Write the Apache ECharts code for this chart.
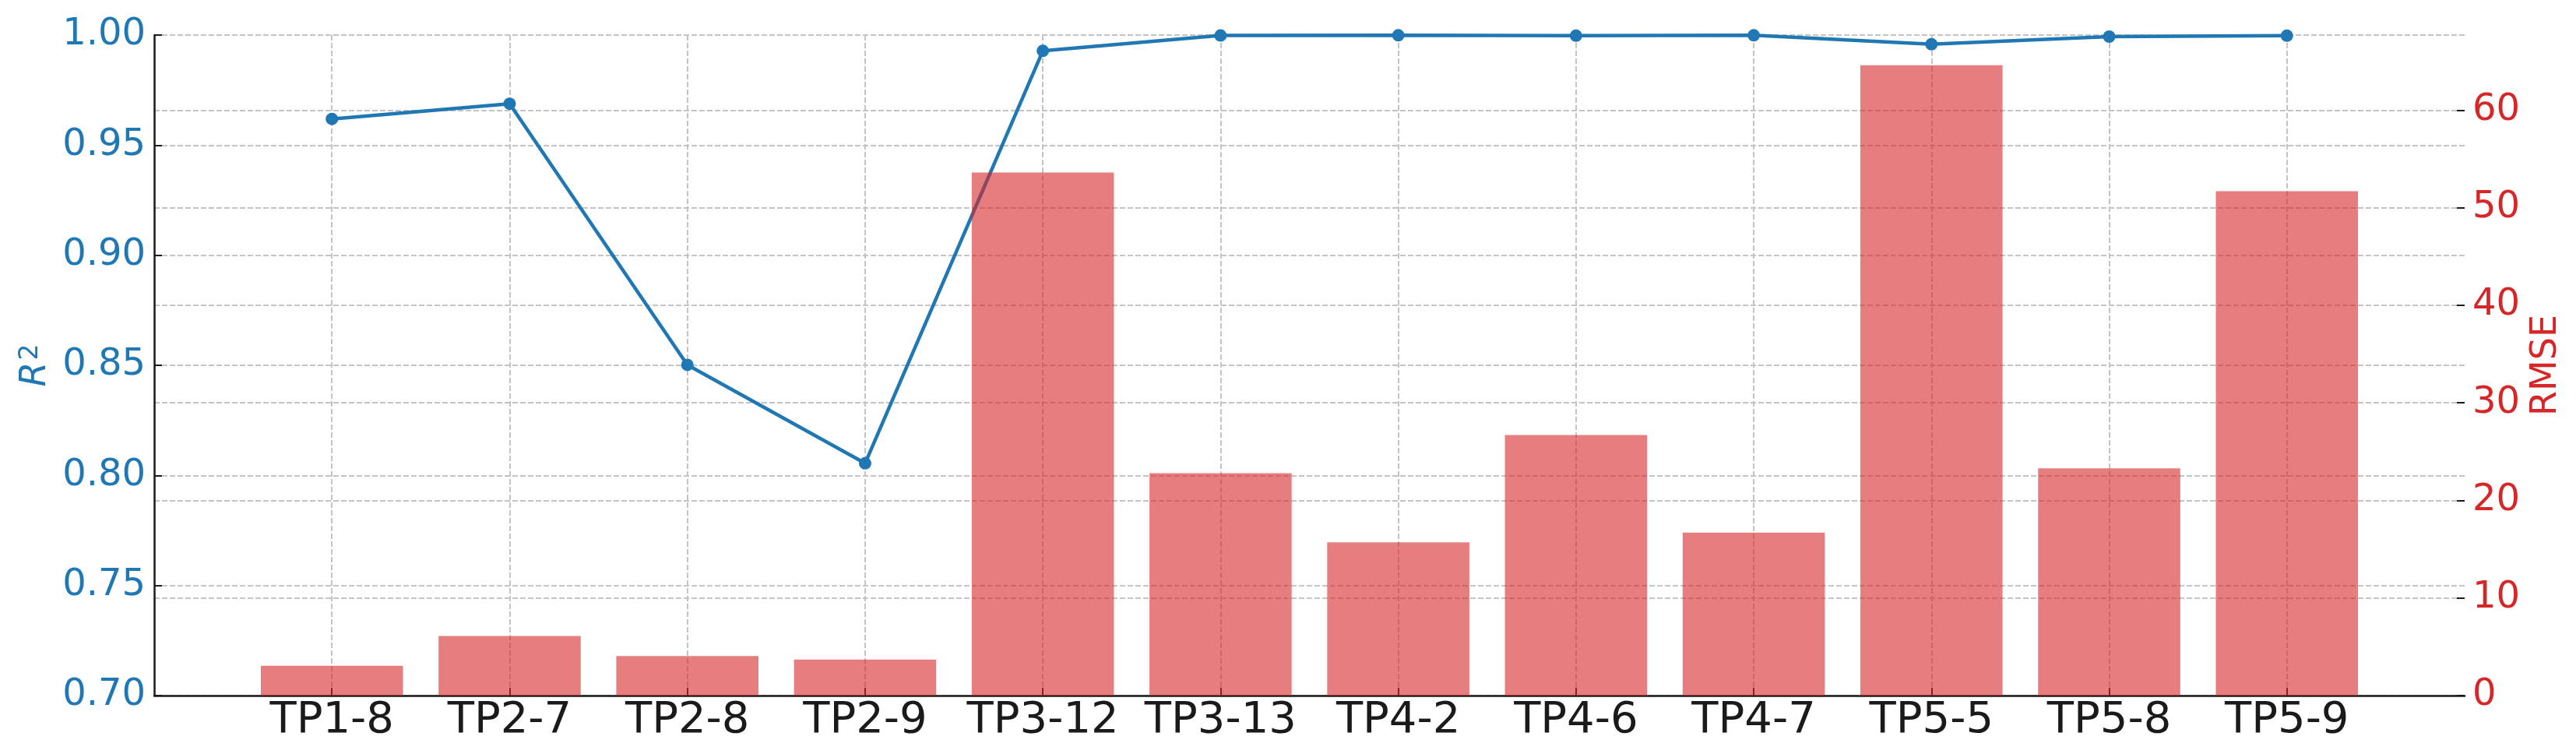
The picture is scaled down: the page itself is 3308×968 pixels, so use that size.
<!DOCTYPE html>
<html>
<head>
<meta charset="utf-8">
<style>
html,body{margin:0;padding:0;background:#fff;}
#chart{width:3308px;height:968px;}
</style>
<script src="https://cdn.jsdelivr.net/npm/echarts@6/dist/echarts.min.js"></script>
</head>
<body>
<div id="chart"></div>
<script>
const categories = ['TP1-8','TP2-7','TP2-8','TP2-9','TP3-12','TP3-13','TP4-2','TP4-6','TP4-7','TP5-5','TP5-8','TP5-9'];
const r2Values = [0.9619, 0.9688, 0.8502, 0.8055, 0.9928, 0.9998, 0.9999, 0.9997, 0.9999, 0.9958, 0.9993, 0.9997];
const rmseValues = [3.06, 6.10, 4.05, 3.70, 53.6, 22.8, 15.7, 26.7, 16.7, 64.6, 23.3, 51.7];
const rmseTicks = [0, 10, 20, 30, 40, 50, 60];
const r2Min = 0.70, r2Max = 1.00, r2Step = 0.05;
const rmseMax = 67.7;

const FONT = 'DejaVu Sans';
const BLUE = '#1f77b4';
const RED = '#d62728';
const INK = '#1a1a1a';
const GRID = '#c4c4c4';

// pad one empty slot on each side so the bars sit one full step from the frame
const axisCats = [''].concat(categories, ['']);
const padded = arr => [null].concat(arr, [null]);
const inner = idx => idx > 0 && idx < axisCats.length - 1;

const chart = echarts.init(document.getElementById('chart'), null, {renderer: 'canvas'});
chart.setOption({
  animation: false,
  backgroundColor: '#ffffff',
  grid: {left: 198, right: 143, top: 45, bottom: 75, containLabel: false},
  xAxis: {
    type: 'category',
    data: axisCats,
    boundaryGap: false,
    axisLine: {show: true, lineStyle: {color: INK, width: 2.5}},
    axisTick: {show: true, inside: true, length: 10, interval: inner, lineStyle: {color: INK, width: 2}},
    axisLabel: {show: true, interval: inner, margin: 4, color: INK, fontFamily: FONT, fontSize: 56},
    splitLine: {show: true, interval: inner, lineStyle: {color: GRID, width: 2, type: [7, 3]}}
  },
  yAxis: [
    {
      type: 'value',
      position: 'left',
      min: r2Min, max: r2Max, interval: r2Step,
      name: '{i|R}{s|2}',
      nameLocation: 'middle',
      nameGap: 128,
      nameTextStyle: {
        color: BLUE, fontFamily: FONT, fontSize: 46,
        rich: {
          i: {color: BLUE, fontFamily: FONT, fontSize: 46, fontStyle: 'italic'},
          s: {color: BLUE, fontFamily: FONT, fontSize: 33, verticalAlign: 'top', padding: [0, 0, 14, 2]}
        }
      },
      axisLine: {show: true, lineStyle: {color: INK, width: 2.5}},
      axisTick: {show: true, inside: true, length: 10, lineStyle: {color: INK, width: 2}},
      axisLabel: {
        show: true, margin: 11, color: BLUE, fontFamily: FONT, fontSize: 48,
        formatter: v => v.toFixed(2)
      },
      splitLine: {show: true, lineStyle: {color: GRID, width: 2, type: [7, 3]}}
    },
    {
      type: 'value',
      position: 'right',
      min: 0, max: rmseMax,
      name: 'RMSE',
      nameLocation: 'middle',
      nameGap: 72,
      nameTextStyle: {color: RED, fontFamily: FONT, fontSize: 46},
      axisLine: {show: false},
      axisTick: {show: true, inside: true, length: 10, customValues: rmseTicks, lineStyle: {color: INK, width: 2}},
      axisLabel: {show: true, margin: 10, color: RED, fontFamily: FONT, fontSize: 48, customValues: rmseTicks},
      splitLine: {show: true, lineStyle: {color: GRID, width: 2, type: [7, 3]}}
    }
  ],
  series: [
    {
      type: 'line',
      yAxisIndex: 0,
      data: padded(r2Values),
      z: 2,
      symbol: 'circle',
      symbolSize: 16,
      showSymbol: true,
      lineStyle: {color: BLUE, width: 4.5},
      itemStyle: {color: BLUE},
      emphasis: {disabled: true}
    },
    {
      type: 'bar',
      yAxisIndex: 1,
      data: padded(rmseValues),
      barWidth: '80%',
      z: 3,
      itemStyle: {color: RED, opacity: 0.6},
      emphasis: {disabled: true}
    }
  ]
});
</script>
</body>
</html>
